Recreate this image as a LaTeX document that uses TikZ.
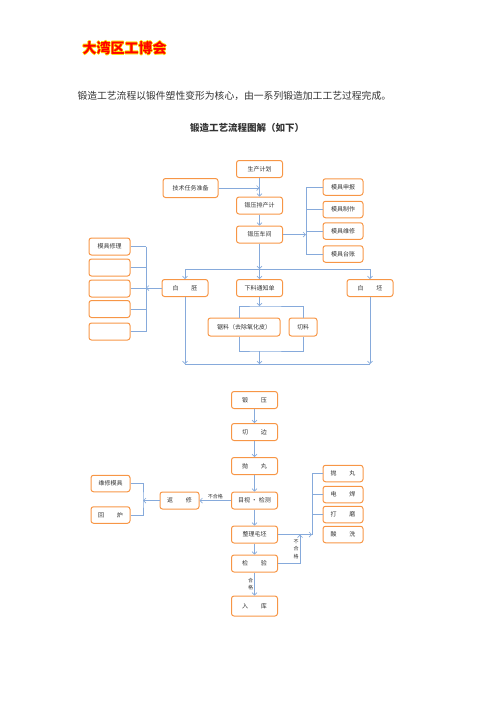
\documentclass[tikz,border=0pt]{standalone}
\usepackage{fontspec}
\setmainfont{Noto Sans CJK SC}
\usetikzlibrary{arrows.meta,positioning}
\definecolor{boxline}{HTML}{F79646}
\definecolor{flowline}{HTML}{86AADB}
\definecolor{txtgray}{HTML}{333333}
\newcommand\wgap{\hspace{13pt}}
\tikzset{
  proc/.style={draw=boxline, line width=1pt, rounded corners=2.5pt, minimum width=46pt, minimum height=17pt, font=\fontsize{6}{7}\selectfont, text=txtgray, inner sep=1pt},
  side/.style={proc, minimum width=40pt, minimum height=16.5pt},
  flow/.style={draw=flowline, line width=0.7pt},
  arr/.style={flow, -{Straight Barb[length=2.5pt,width=5pt]}},
  note/.style={font=\fontsize{5}{5.5}\selectfont, text=txtgray, inner sep=1pt},
}
\begin{document}
\begin{tikzpicture}[x=1pt,y=-1pt]
\useasboundingbox (0,0) rectangle (496,702);
% header
\foreach \dx/\dy in {-0.6/0, 0.6/0, 0/-0.6, 0/0.6, -0.4/-0.4, 0.4/0.4, -0.4/0.4, 0.4/-0.4}
  \node[anchor=west, font=\fontsize{14}{16}\selectfont\bfseries, text=yellow!80!orange] at (79+\dx,48+\dy) {大湾区工博会};
\node[anchor=west, font=\fontsize{14}{16}\selectfont\bfseries, text=red] (title) at (79,48) {大湾区工博会};
\node[anchor=west, font=\fontsize{9.8}{11}\selectfont, text=txtgray] (intro) at (74,96) {锻造工艺流程以锻件塑性变形为核心，由一系列锻造加工工艺过程完成。};
\node[font=\fontsize{9.5}{11}\selectfont\bfseries, text=txtgray] (head) at (247,128) {锻造工艺流程图解（如下）};

% planning
\node[proc] (plan) at (259.5,169) {生产计划};
\node[proc, minimum width=55pt, minimum height=19pt] (tech) at (190.5,188) {技术任务准备};
\node[proc] (sched) at (259.5,205.5) {锻压排产计};
\node[proc] (shop) at (259.5,234.5) {锻压车间};
\draw[arr] (plan) -- (sched);
\draw[arr] (tech) -- (tech -| plan);
\draw[arr] (sched) -- (shop);

% molds
\foreach \n/\y/\t in {m1/187/模具申报, m2/209.5/模具制作, m3/231/模具维修, m4/254/模具台账}
  \node[side] (\n) at (343,\y) {\t};
\coordinate (mb) at (306,234.5);
\draw[arr] (shop) -- (mb);
\draw[flow] (m1.west -| mb) -- (m4.west -| mb);
\foreach \n in {m1,m2,m3,m4} \draw[flow] (\n.west -| mb) -- (\n.west);

% blanks and material
\node[proc] (bpl) at (185,288) {白\wgap 胚};
\node[proc] (notice) at (259.5,288) {下料通知单};
\node[proc] (bpr) at (370,288) {白\wgap 坯};
\coordinate (split) at (259.5,269);
\draw[arr] (shop) -- (split);
\draw[flow] (split -| bpl) -- (split -| bpr);
\foreach \n in {bpl,notice,bpr} \draw[arr] (split -| \n) -- (\n);

\foreach \n/\y/\t in {r1/246.5/模具修理, r2/267.5/{}, r3/288.5/{}, r4/309/{}, r5/331.5/{}}
  \node[side, minimum width=41pt, minimum height=17pt] (\n) at (109.5,\y) {\t};
\coordinate (rb) at (146,288);
\draw[arr] (bpl) -- (rb);
\draw[flow] (r1.east -| rb) -- (r5.east -| rb);
\foreach \n in {r1,r2,r3,r4,r5} \draw[flow] (\n.east) -- (\n.east -| rb);

\node[proc, minimum width=72pt, minimum height=18pt] (saw) at (244,327) {锯料（去除氧化皮）};
\node[proc, minimum width=28pt, minimum height=18pt] (cut) at (303,327) {切料};
\coordinate (cutsplit) at (259.5,306);
\coordinate (cutjoin) at (259.5,351);
\coordinate (merge) at (259.5,364);
\draw[arr] (notice) -- (cutsplit);
\draw[flow] ([xshift=-5pt]saw.north) |- (cutsplit) -| (cut.north);
\draw[flow] ([xshift=-5pt]saw.south) |- (cutjoin) -| (cut.south);
\draw[arr] (cutjoin) -- (merge);
\draw[flow] (merge -| bpl) -- (merge -| bpr);
\draw[arr] (bpl) -- (merge -| bpl);
\draw[arr] (bpr) -- (merge -| bpr);

% forging line
\node[proc] (forge) at (254.5,400) {锻\wgap 压};
\node[proc] (trim) at (254.5,432) {切\wgap 边};
\node[proc] (shot) at (254.5,466) {抛\wgap 丸};
\node[proc] (insp) at (254.5,500.5) {目视 · 检测};
\node[proc] (shape) at (254.5,534.5) {整理毛坯};
\node[proc] (check) at (254.5,563.5) {检\wgap 验};
\node[proc, minimum height=20pt] (store) at (254.5,606) {入\wgap 库};
\draw[arr] (forge) -- (trim);
\draw[arr] (trim) -- (shot);
\draw[arr] (shot) -- (insp);
\draw[arr] (insp) -- (shape);
\draw[arr] (shape) -- (check);
\draw[arr] (check) -- node[note, left] {\shortstack{合\\格}} (store);

% rework
\node[proc, minimum width=39pt] (fix) at (179.5,500.5) {返\wgap 修};
\node[side, minimum width=39pt] (mfix) at (110.5,483.5) {维修模具};
\node[side, minimum width=39pt] (melt) at (110.5,515) {回\wgap 炉};
\coordinate (fb) at (143,500.5);
\draw[arr] (insp) -- node[note, above] {不合格} (fix);
\draw[arr] (fix) -- (fb);
\draw[flow] (mfix.east) -| (fb) |- (melt.east);

% finishing
\foreach \n/\y/\t in {f1/473.5/抛\wgap 丸, f2/494.5/电\wgap 焊, f3/514.5/打\wgap 磨, f4/534.5/酸\wgap 洗}
  \node[side] (\n) at (343,\y) {\t};
\coordinate (fin) at (312,534.5);
\coordinate (back) at (300,534.5);
\draw[arr] (shape) -- (fin);
\draw[flow] (f1.west -| fin) -- (fin);
\foreach \n in {f1,f2,f3} \draw[flow] (\n.west -| fin) -- (\n.west);
\draw[arr] (check.east) -| node[note, pos=0.75, left] {\shortstack{不\\合\\格}} (back);
\end{tikzpicture}
\end{document}
